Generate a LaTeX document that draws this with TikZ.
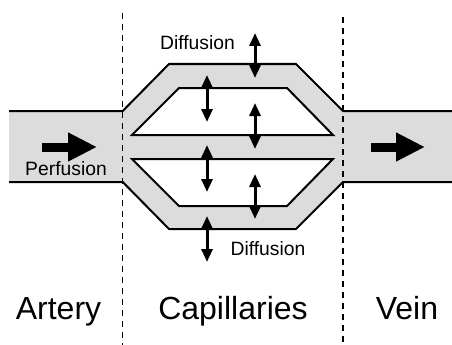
\documentclass[tikz,border=0pt]{standalone}
\usepackage{fontspec}
\setmainfont{Liberation Sans}
\usetikzlibrary{arrows.meta}
\definecolor{vesselgray}{RGB}{220,220,220}
\begin{document}
\begin{tikzpicture}[x=1pt,y=-1pt,
  wall/.style={line width=2pt, line join=miter},
  divider/.style={line width=1.5pt, dash pattern=on 6pt off 5pt},
  dbl/.style={line width=3pt, {Triangle[length=13pt,width=11pt]}-{Triangle[length=13pt,width=11pt]}},
  flow/.style={line width=9pt, -{Triangle[length=29pt,width=27pt]}},
  small/.style={font=\fontsize{19.3}{19.3}\selectfont},
  big/.style={font=\fontsize{32}{32}\selectfont}]
\useasboundingbox (0,0) rectangle (452,345);
% gray vessel body
\fill[vesselgray] (9,111) -- (122.7,111) -- (169,64) -- (296,64) -- (343,111) -- (452,111)
  -- (452,182) -- (343,182) -- (296,229) -- (169,229) -- (122.7,182) -- (9,182) -- cycle;
% walls
\draw[wall] (9,111) -- (122.7,111) -- (169,64) -- (296,64) -- (343,111) -- (452,111);
\draw[wall] (9,182) -- (122.7,182) -- (169,229) -- (296,229) -- (343,182) -- (452,182);
\draw[wall, fill=white] (179,88) -- (287,88) -- (333,135) -- (132,135) -- cycle;
\draw[wall, fill=white] (132,159) -- (333,159) -- (287,206) -- (179,206) -- cycle;
% dividers
\coordinate (l1) at (122.7,13); \coordinate (l2) at (122.7,345);
\coordinate (r1) at (343,17); \coordinate (r2) at (343,345);
\draw[divider] (l1) -- (l2);
\draw[divider] (r1) -- (r2);
% flow arrows
\coordinate (fa1) at (42,147); \coordinate (fa2) at (97,147);
\coordinate (fv1) at (371,147); \coordinate (fv2) at (425,147);
\draw[flow] (fa1) -- (fa2);
\draw[flow] (fv1) -- (fv2);
% diffusion arrows
\coordinate (d1a) at (255,33);  \coordinate (d1b) at (255,78);
\coordinate (d2a) at (207,75);  \coordinate (d2b) at (207,122);
\coordinate (d3a) at (255,103); \coordinate (d3b) at (255,149);
\coordinate (d4a) at (207,145); \coordinate (d4b) at (207,192);
\coordinate (d5a) at (255,174); \coordinate (d5b) at (255,219);
\coordinate (d6a) at (207,216); \coordinate (d6b) at (207,262);
\draw[dbl] (d1a) -- (d1b);
\draw[dbl] (d2a) -- (d2b);
\draw[dbl] (d3a) -- (d3b);
\draw[dbl] (d4a) -- (d4b);
\draw[dbl] (d5a) -- (d5b);
\draw[dbl] (d6a) -- (d6b);
% labels
\node[small, anchor=base] (perf) at (66,175) {Perfusion};
\node[small, anchor=base] (diff1) at (197.5,49) {Diffusion};
\node[small, anchor=base] (diff2) at (268,255) {Diffusion};
\node[big, anchor=base] (artery) at (58.5,319) {Artery};
\node[big, anchor=base] (cap) at (233,319) {Capillaries};
\node[big, anchor=base] (vein) at (407,319) {Vein};
\end{tikzpicture}
\end{document}
